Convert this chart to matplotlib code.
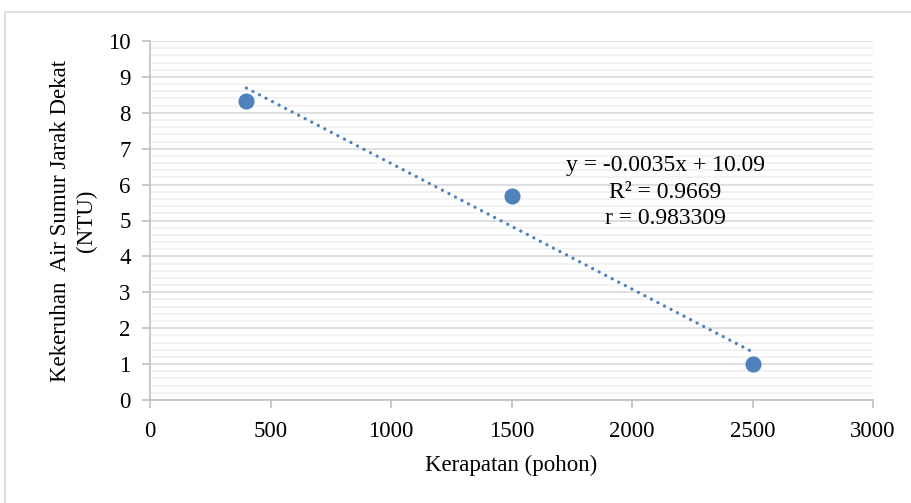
import matplotlib.pyplot as plt
from matplotlib.patches import Rectangle
from matplotlib.ticker import MultipleLocator

plt.rcParams['font.family'] = ['Liberation Serif', 'DejaVu Serif']

kerapatan = [400, 1500, 2500]
kekeruhan = [8.33, 5.67, 1.0]
slope = -0.0035
intercept = 10.09
trend_x = [400, 2500]
eq_lines = ['y = -0.0035x + 10.09', 'R² = 0.9669', 'r = 0.983309']

fig = plt.figure(figsize=(9.11, 5.03), dpi=100)
ax = fig.add_axes([150 / 911, 1 - 400 / 503, 723 / 911, 359 / 503])

# outer chart border
fig.patches.append(Rectangle((5 / 911, -0.1), 1.2, 1 - 12 / 503 + 0.1,
                             transform=fig.transFigure, fill=False,
                             edgecolor='#d9d9d9', linewidth=1.2))

ax.scatter(kerapatan, kekeruhan, s=112, color='#4f81bd', zorder=3)
trend_y = [slope * x + intercept for x in trend_x]
ax.plot(trend_x, trend_y, linestyle=(0, (0.01, 2.2)), color='#4f81bd',
        linewidth=2.4, dash_capstyle='round', zorder=2)

ax.set_xlim(0, 3000)
ax.set_ylim(0, 10)
ax.xaxis.set_major_locator(MultipleLocator(500))
ax.yaxis.set_major_locator(MultipleLocator(1))
ax.yaxis.set_minor_locator(MultipleLocator(0.2))
ax.grid(which='major', axis='y', color='#d9d9d9', linewidth=1.2)
ax.grid(which='minor', axis='y', color='#f0f0f0', linewidth=1.2)
ax.set_axisbelow(True)

for s in ['top', 'right']:
    ax.spines[s].set_visible(False)
for s in ['left', 'bottom']:
    ax.spines[s].set_color('#bfbfbf')
    ax.spines[s].set_linewidth(1.2)
ax.tick_params(which='major', length=6, color='#bfbfbf', width=1.2,
               labelsize=16.5)
ax.tick_params(which='minor', length=0)
ax.tick_params(axis='y', pad=8)
ax.tick_params(axis='x', pad=9)

ax.set_xlabel('Kerapatan (pohon)', fontsize=16.5, labelpad=9)
ax.set_ylabel('Kekeruhan  Air Sumur Jarak Dekat\n(NTU)', fontsize=16.5,
              labelpad=8, linespacing=1.3)

ax.text(2137, 5.79, '\n'.join(eq_lines), fontsize=17, ha='center',
        va='center', linespacing=1.35)

fig.savefig('out.png', dpi=100)
